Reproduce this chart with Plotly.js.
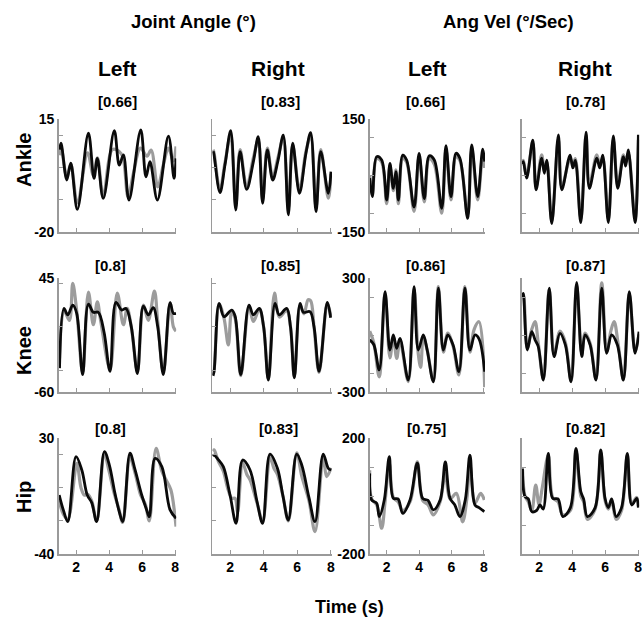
<!DOCTYPE html>
<html>
<head>
<meta charset="utf-8">
<script src="https://cdn.plot.ly/plotly-3.0.1.min.js"></script>
<style>html,body{margin:0;padding:0;background:#fff;}#chart{width:642px;height:619px;}</style>
</head>
<body>
<div id="chart"></div>
<script>
// ---------------- DATA (time in s) ----------------
const xTickVals = [2, 4, 6, 8];
const colHeaders = ["Left", "Right", "Left", "Right"];
const groupTitles = ["Joint Angle (°)", "Ang Vel (°/Sec)"];
const rowLabels = ["Ankle", "Knee", "Hip"];
const corrLabels = [["[0.66]", "[0.83]", "[0.66]", "[0.78]"],
                    ["[0.8]", "[0.85]", "[0.86]", "[0.87]"],
                    ["[0.8]", "[0.83]", "[0.75]", "[0.82]"]];
const yLimits = [[[-20, 15], [-150, 150]], [[-60, 45], [-300, 300]], [[-40, 30], [-200, 200]]];
const yMinorTicks = [[[-10, 0, 10], [-100, 0, 100]], [[-40, 0, 40], [-200, 0, 200]], [[-20, 0, 20], [-100, 0, 100]]];

// Ankle angle, left
const ankAngL_tB = [1.0, 1.09, 1.44, 1.68, 2.08, 2.75, 3.09, 3.29, 3.65, 4.32, 4.62, 4.87, 5.21, 5.92, 6.24, 6.48, 6.93, 7.6, 7.94, 8.06];
const ankAngL_B  = [5.5, 7.5, -3.9, 1.3, -13, 10.6, -3.4, 2.8, -9.6, 11.4, 0.7, 3.9, -10.1, 11.6, -2.9, 1.8, -10.1, 9.7, -3.4, 2.8];
const ankAngL_tG = [1.0, 1.1, 1.44, 1.68, 2.08, 2.7, 3.05, 3.3, 3.65, 4.2, 4.6, 4.85, 5.15, 5.5, 5.9, 6.3, 6.55, 6.95, 7.3, 7.6, 7.9, 8.06];
const ankAngL_G  = [3.8, 6, -3, 1, -11, 4.5, -2.5, 3, -9, 5.5, 5, 3, -9, -1.3, 6, 3.5, 5.4, -6, 1, 6, 2, 6.5];
// Ankle angle, right
const ankAngR_tB = [1.0, 1.05, 1.4, 1.7, 2.04, 2.34, 2.6, 2.99, 3.39, 3.68, 3.94, 4.22, 4.54, 4.85, 5.17, 5.47, 5.73, 6.13, 6.52, 6.8, 7.12, 7.4, 7.85, 8.01];
const ankAngR_B  = [5, 3.8, -7.8, 0.8, 11.4, -13.2, 4.9, -6.8, 1.8, 9.5, -11.1, 5.4, -3.9, 2, 10, -14.7, 7.5, -8, 4.4, 10.8, -13.7, 4.9, -8, -1.3];
const ankAngR_G  = [5.5, 4.5, -7, 1.5, 10, -12, 5.5, -6, 3, 8.5, -10, 6, -3, 3, 9, -13, 7, -7, 5, 9.5, -12.5, 5.5, -9.5, -2];
// Ankle velocity, left
const ankVelL_tB = [0.95, 1.11, 1.38, 1.69, 2.0, 2.2, 2.41, 2.57, 2.72, 2.99, 3.23, 3.69, 4.0, 4.32, 4.63, 4.94, 5.4, 5.66, 5.97, 6.28, 6.52, 7.0, 7.25, 7.62, 7.93, 8.05];
const ankVelL_B  = [-7, -56, 50, 41, -65, 32, -34, 10, -65, 54, 41, -84, 59, -61, 52, 41, -87, 79, -56, 59, 46, -114, 81, -56, 70, 37];
const ankVelL_G  = [0, -50, 45, 35, -75, 25, -40, 15, -75, 45, 35, -95, 50, -70, 45, 30, -100, 70, -65, 50, 40, -105, 70, -65, 55, 20];
// Ankle velocity, right
const ankVelR_tB = [1.0, 1.05, 1.25, 1.62, 1.82, 2.16, 2.32, 2.47, 2.77, 3.17, 3.38, 3.88, 4.05, 4.2, 4.53, 4.85, 5.05, 5.5, 5.68, 5.86, 6.2, 6.5, 6.77, 7.11, 7.25, 7.41, 7.82, 8.02];
const ankVelR_B  = [30, 37, -7, 94, -38, 46, 6, 41, -128, 108, -38, 54, 20, 40, -125, 115, -34, 46, 20, 54, -125, 105, -34, 50, 25, 68, -125, 108];
const ankVelR_G  = [35, 40, 0, 85, -30, 55, 15, 35, -120, 95, -30, 45, 30, 45, -115, 105, -25, 55, 30, 45, -115, 95, -25, 55, 35, 60, -115, 95];
// Knee angle, left
const kneAngL_tB = [1.0, 1.27, 1.5, 1.8, 2.04, 2.4, 2.75, 3.05, 3.35, 3.7, 4.06, 4.42, 4.77, 5.03, 5.35, 5.72, 6.08, 6.38, 6.68, 6.95, 7.29, 7.7, 7.9, 8.06];
const kneAngL_B  = [-38, 17, 11, 20, 12.5, -44, 21, 13.4, 13.4, -5, -41, 22.6, 15.5, 17, 0, -43, 19, 11, 17.7, 0, -44, 22.3, 12.5, 12.5];
const kneAngL_tG = [1.0, 1.27, 1.6, 1.8, 2.04, 2.4, 2.75, 3.05, 3.29, 3.5, 4.06, 4.5, 4.87, 5.1, 5.35, 5.72, 6.08, 6.38, 6.75, 6.95, 7.29, 7.7, 7.9, 8.06];
const kneAngL_G  = [-29, 15, 6, 40, 15, -42, 32, 2, 23, 5, -39, 31, 2, 17, 0, -41, 20, 6, 33, 5, -42, 22, 0, -4];
// Knee angle, right
const kneAngR_tB = [0.98, 1.05, 1.35, 1.64, 2.1, 2.3, 2.64, 3.13, 3.39, 3.74, 4.0, 4.28, 4.68, 4.93, 5.37, 5.6, 5.83, 6.17, 6.37, 6.76, 7.0, 7.3, 7.79, 7.99];
const kneAngR_B  = [-45, -41, 21.7, 9.4, 15.5, 10, -44, 20, 11, 17, 0, -49, 21.7, 11, 17, 0, -47, 21.7, 13.4, 14, 0, -41, 22.6, 8.4];
const kneAngR_tG = [0.98, 1.05, 1.35, 1.64, 1.9, 2.1, 2.3, 2.64, 3.13, 3.39, 3.74, 4.0, 4.28, 4.65, 4.93, 5.37, 5.6, 5.83, 6.17, 6.4, 6.65, 6.8, 7.0, 7.3, 7.79, 7.99];
const kneAngR_G  = [-45, -40, 21, 8, -16.7, 14, 8, -45, 19, 5, 16, 0, -48, 31, 9, 15, 0, -46, 20, 12, 25, 24, 0, -42, 22, 10];
// Knee velocity, left
const kneVelL_tB = [0.95, 1.2, 1.54, 1.9, 2.2, 2.41, 2.62, 2.82, 3.33, 3.69, 3.95, 4.26, 4.5, 4.88, 5.19, 5.5, 5.77, 6.1, 6.46, 6.83, 7.14, 7.45, 7.7, 8.05];
const kneVelL_B  = [-26, -50, -184, 228, -79, 0, -70, -18, -237, 254, -79, 0, -79, -246, 246, -79, 0, -53, -193, 246, -79, 0, -20, -193];
const kneVelL_tG = [0.95, 1.2, 1.54, 1.9, 2.2, 2.41, 2.62, 2.82, 3.33, 3.69, 3.95, 4.1, 4.26, 4.5, 4.88, 5.19, 5.5, 5.77, 6.1, 6.46, 6.83, 7.14, 7.4, 7.7, 8.05];
const kneVelL_G  = [20, -40, -220, 215, -120, -10, -123, -30, -245, 240, -100, -170, -10, -80, -240, 255, -90, 10, -60, -210, 255, -90, 30, 70, -275];
// Knee velocity, right
const kneVelR_tB = [1.0, 1.05, 1.29, 1.56, 1.76, 1.95, 2.26, 2.62, 2.91, 3.27, 3.6, 3.94, 4.28, 4.59, 4.79, 5.1, 5.45, 5.8, 6.1, 6.4, 6.75, 7.11, 7.47, 7.82, 8.06];
const kneVelR_B  = [200, 219, -79, 18, -26, -60, -237, 246, -114, 9, -53, -246, 277, -114, 0, -53, -237, 246, -96, 0, -53, -237, 228, -96, 18];
const kneVelR_tG = [1.0, 1.05, 1.29, 1.56, 1.76, 1.95, 2.26, 2.62, 2.91, 3.27, 3.6, 3.94, 4.28, 4.59, 4.79, 5.1, 5.45, 5.8, 6.1, 6.35, 6.55, 6.8, 7.11, 7.47, 7.82, 8.06];
const kneVelR_G  = [210, 215, -70, 30, 70, -40, -230, 240, -100, 20, -40, -240, 260, -100, 10, -45, -230, 275, -90, 20, 70, -50, -230, 215, -85, 5];
// Hip angle, left
const hipAngL_tB = [0.98, 1.23, 1.5, 2.0, 2.35, 2.68, 2.95, 3.25, 3.72, 4.02, 4.36, 4.62, 4.83, 5.27, 5.58, 5.98, 6.28, 6.44, 6.79, 7.2, 7.7, 8.06];
const hipAngL_B  = [-4.4, -13.4, -20.5, 18.7, 10.7, -4.4, -9, -20.5, 21.8, 13.7, -3.4, -14.5, -20.5, 20.8, 10.7, -4.4, -13.4, -17.5, 17.7, 12.7, -13.4, -18.5];
const hipAngL_tG = [0.98, 1.23, 1.5, 2.05, 2.3, 2.5, 2.7, 2.95, 3.25, 3.72, 4.0, 4.3, 4.6, 4.83, 5.27, 5.6, 5.9, 6.2, 6.44, 6.85, 7.2, 7.5, 7.75, 8.06];
const hipAngL_G  = [-8, -16, -19, 14.7, 0, -4.4, -4, -8, -20, 20, 10, -3, -13, -21, 18, 8, -4, -10, -20, 23.8, 10, 4, -1.4, -23.5];
// Hip angle, right
const hipAngR_tB = [0.98, 1.05, 1.3, 1.6, 2.0, 2.36, 2.75, 3.19, 3.6, 3.94, 4.38, 4.82, 5.15, 5.47, 5.97, 6.27, 6.7, 7.06, 7.55, 7.85, 8.02];
const hipAngR_B  = [19, 19.7, 17, 12.7, -4.4, -21.5, 16.7, 10.7, -8, -21.5, 20.3, 11.7, -5, -19.5, 20.3, 13.7, -6, -20.5, 20.3, 11.7, 10.7];
const hipAngR_tG = [0.98, 1.05, 1.3, 1.6, 1.85, 2.1, 2.3, 2.45, 2.75, 3.0, 3.19, 3.6, 3.94, 4.38, 4.6, 4.82, 5.15, 5.47, 5.97, 6.27, 6.7, 7.06, 7.55, 7.75, 8.02];
const hipAngR_G  = [22, 22.8, 16, 10, 0, -6.4, -6.4, -15, 15, 8, 4.7, -9, -20, 19, 12, 8, -5, -20, 21, 7, -8, -26.5, 19, 6.7, 12];
// Hip velocity, left
const hipVelL_tB = [0.95, 1.07, 1.38, 1.54, 1.85, 2.16, 2.41, 2.7, 2.99, 3.44, 3.89, 4.22, 4.55, 4.88, 5.3, 5.62, 5.91, 6.2, 6.52, 6.85, 7.14, 7.45, 7.7, 8.03];
const hipVelL_B  = [78, -14, -25, -71, -14, 136, -8, -10, -60, -14, 113, -8, -15, -48, -14, 118, -8, -30, -71, -14, 141, -31, -40, -54];
const hipVelL_tG = [0.95, 1.07, 1.38, 1.69, 1.9, 2.16, 2.41, 2.7, 2.99, 3.44, 3.89, 4.22, 4.55, 4.88, 5.3, 5.62, 5.91, 6.3, 6.69, 6.95, 7.14, 7.45, 7.8, 8.03];
const hipVelL_G  = [89, -10, -30, -111, -20, 113, -5, -20, -50, -20, 118, -15, -30, -65, -20, 78, -10, 9, -89, -10, 107, -25, 9, -14];
// Hip velocity, right
const hipVelR_tB = [1.0, 1.15, 1.35, 1.56, 1.85, 2.06, 2.25, 2.56, 2.83, 3.15, 3.44, 3.9, 4.24, 4.53, 4.7, 4.93, 5.4, 5.74, 6.0, 6.2, 6.4, 6.67, 7.0, 7.35, 7.62, 7.92, 8.02];
const hipVelR_B  = [95, -2, -10, -54, -50, -31, -45, 147, -8, -10, -71, -40, 164, 15, -10, -71, -40, 159, -8, -40, -10, -71, -40, 147, -31, -8, -40];
const hipVelR_tG = [1.0, 1.15, 1.35, 1.56, 1.8, 2.0, 2.2, 2.56, 2.83, 3.15, 3.44, 3.9, 4.24, 4.53, 4.7, 4.93, 5.4, 5.74, 6.0, 6.2, 6.4, 6.67, 7.0, 7.35, 7.62, 7.92, 8.02];
const hipVelR_G  = [90, 0, -20, -50, 38, -30, 30, 140, -5, -20, -65, -50, 155, 0, -20, -81, -45, 150, -15, -45, -15, -81, -50, 140, -25, -5, -35];

// panel table [row][col] built from the arrays above
const panelData = [
  [[ankAngL_tB, ankAngL_B, ankAngL_tG, ankAngL_G], [ankAngR_tB, ankAngR_B, ankAngR_tB, ankAngR_G],
   [ankVelL_tB, ankVelL_B, ankVelL_tB, ankVelL_G], [ankVelR_tB, ankVelR_B, ankVelR_tB, ankVelR_G]],
  [[kneAngL_tB, kneAngL_B, kneAngL_tG, kneAngL_G], [kneAngR_tB, kneAngR_B, kneAngR_tG, kneAngR_G],
   [kneVelL_tB, kneVelL_B, kneVelL_tG, kneVelL_G], [kneVelR_tB, kneVelR_B, kneVelR_tG, kneVelR_G]],
  [[hipAngL_tB, hipAngL_B, hipAngL_tG, hipAngL_G], [hipAngR_tB, hipAngR_B, hipAngR_tG, hipAngR_G],
   [hipVelL_tB, hipVelL_B, hipVelL_tG, hipVelL_G], [hipVelR_tB, hipVelR_B, hipVelR_tG, hipVelR_G]]
];

// ---------------- LAYOUT ----------------
const W = 642, H = 619;
const FONT = "Arial, 'Liberation Sans', Helvetica, sans-serif";
const xRange = [0.95, 8.07];
const colPx = [[58.7, 176.2], [212.4, 332.0], [369.7, 485.0], [521.7, 639.2]];
const rowPx = [[119, 232], [278, 392], [438, 554]];
const corrPx = [[117, 280, 425, 585], [110, 280, 425, 585], [110, 278, 426, 585]];
const corrY = [101, 265, 428];
const axisGray = '#9a9a9a';
const tickFont = {size: 14, family: FONT, color: '#000', weight: 'bold'};

const traces = [];
const layout = {
  width: W, height: H,
  margin: {l: 0, r: 0, t: 0, b: 0},
  paper_bgcolor: '#ffffff', plot_bgcolor: 'rgba(0,0,0,0)',
  showlegend: false,
  font: {family: FONT, color: '#000', size: 13},
  annotations: []
};

let n = 0;
for (let r = 0; r < 3; r++) {
  for (let c = 0; c < 4; c++) {
    n++;
    const xa = 'xaxis' + (n === 1 ? '' : n), ya = 'yaxis' + (n === 1 ? '' : n);
    const xr = 'x' + (n === 1 ? '' : n), yr = 'y' + (n === 1 ? '' : n);
    const lim = yLimits[r][Math.floor(c / 2)];
    const minor = yMinorTicks[r][Math.floor(c / 2)];
    const [tB, vB, tG, vG] = panelData[r][c];
    traces.push({x: tG, y: vG, xaxis: xr, yaxis: yr, type: 'scatter', mode: 'lines',
      line: {color: '#9c9c9c', width: 3.2, shape: 'spline', smoothing: 1}, hoverinfo: 'skip'});
    traces.push({x: tB, y: vB, xaxis: xr, yaxis: yr, type: 'scatter', mode: 'lines',
      line: {color: '#0a0a0a', width: 2.8, shape: 'spline', smoothing: 1}, hoverinfo: 'skip'});
    layout[xa] = {
      domain: [colPx[c][0] / W, colPx[c][1] / W], anchor: yr, range: xRange,
      showline: true, linecolor: axisGray, linewidth: 1.5, mirror: false,
      ticks: 'inside', ticklen: 4, tickwidth: 1, tickcolor: axisGray,
      tickmode: 'array', tickvals: xTickVals, ticktext: xTickVals.map(String),
      showticklabels: r === 2, tickfont: tickFont, ticklabeloverflow: 'allow',
      showgrid: false, zeroline: false, fixedrange: true
    };
    const tv = [lim[0]].concat(minor, [lim[1]]);
    const tt = tv.map((v, i) => (i === 0 || i === tv.length - 1) ? String(v) : '');
    layout[ya] = {
      domain: [1 - rowPx[r][1] / H, 1 - rowPx[r][0] / H], anchor: xr, range: lim,
      showline: true, linecolor: axisGray, linewidth: 1.5, mirror: false,
      ticks: 'inside', ticklen: 4, tickwidth: 1, tickcolor: axisGray,
      tickmode: 'array', tickvals: tv, ticktext: tt,
      showticklabels: (c === 0 || c === 2), tickfont: tickFont, ticklabeloverflow: 'allow',
      showgrid: false, zeroline: false, fixedrange: true
    };
    layout.annotations.push({text: '<b>' + corrLabels[r][c] + '</b>', xref: 'paper', yref: 'paper',
      x: corrPx[r][c] / W, y: 1 - corrY[r] / H, xanchor: 'center', yanchor: 'middle', showarrow: false,
      font: {size: 15, family: FONT, color: '#000'}});
  }
}

const ann = (text, px, py, size, angle) => layout.annotations.push({
  text: '<b>' + text + '</b>', xref: 'paper', yref: 'paper', x: px / W, y: 1 - py / H,
  xanchor: 'center', yanchor: 'middle', showarrow: false, textangle: angle || 0,
  font: {size: size, family: FONT, color: '#000'}});

ann(groupTitles[0], 193, 22, 18.5);
ann(groupTitles[1], 508, 22, 18.5);
const headerX = [117, 278, 427, 585];
colHeaders.forEach((h, i) => ann(h, headerX[i], 68, 21));
const rowLabelY = [160, 350, 497];
rowLabels.forEach((h, i) => ann(h, 24, rowLabelY[i], 20, -90));
ann('Time (s)', 349, 607, 18);

Plotly.newPlot('chart', traces, layout, {staticPlot: true, displayModeBar: false});
</script>
</body>
</html>
